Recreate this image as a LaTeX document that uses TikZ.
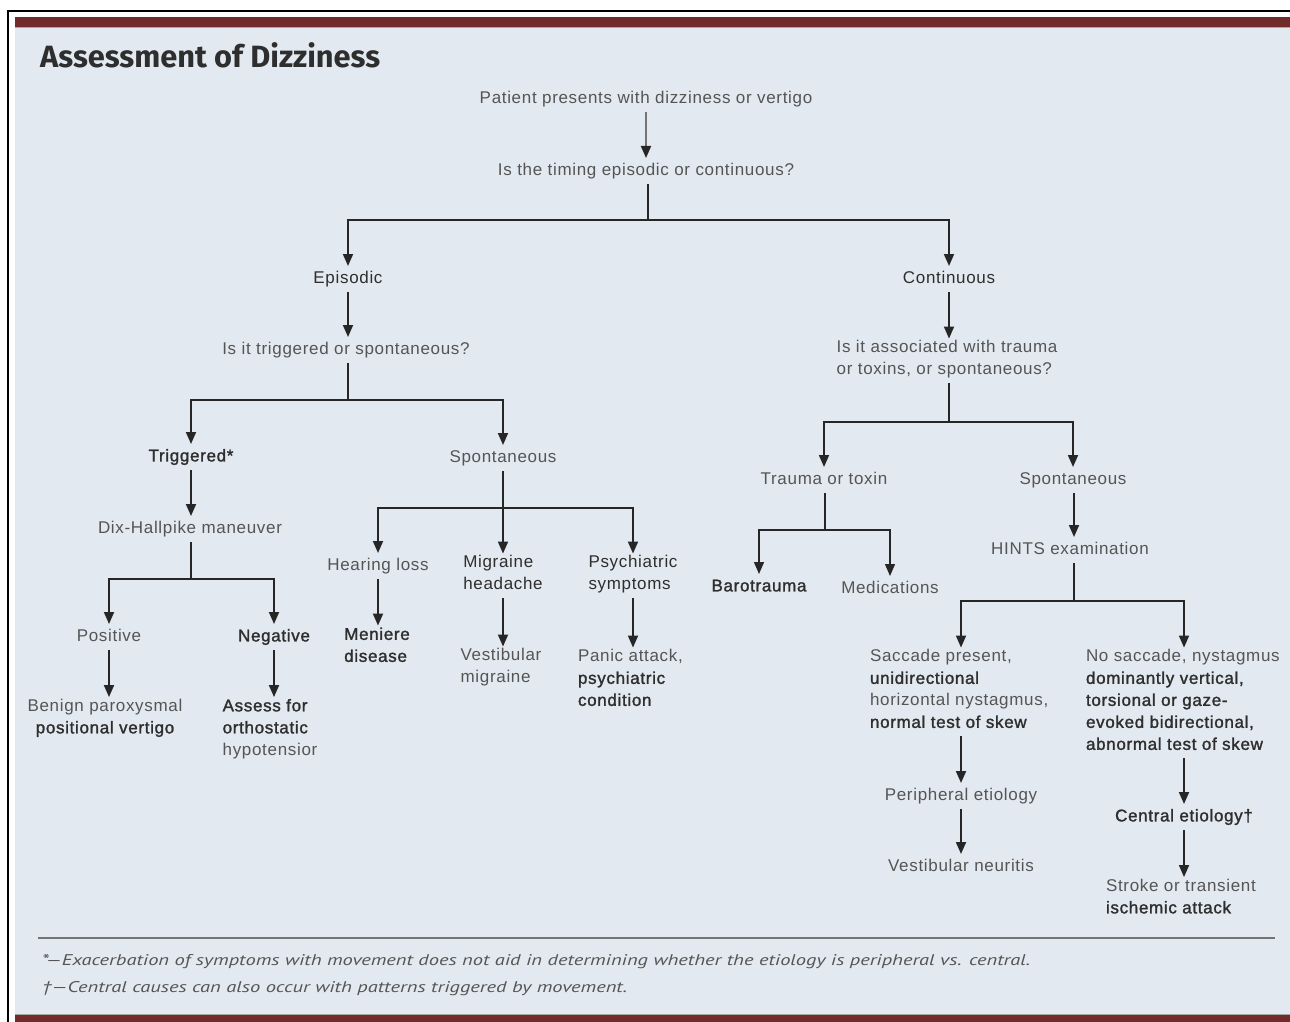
\documentclass[tikz,border=0pt]{standalone}
\usepackage{fontspec}
\usepackage{graphicx}
\usetikzlibrary{arrows.meta}
\setmainfont{Liberation Sans}[LetterSpace=4]
\newfontfamily\dkfont{Liberation Sans}[FakeBold=1.5,LetterSpace=4]
\newfontfamily\ttlfont{Fira Sans}
\newfontfamily\fnfont{PT Sans}
\definecolor{panel}{HTML}{E2E9F0}
\definecolor{barred}{HTML}{722B2B}
\definecolor{txtc}{HTML}{555555}
\definecolor{dtxt}{HTML}{2E2E2E}
\definecolor{lnc}{HTML}{262626}
\newcommand{\darkt}[1]{{\dkfont\color{dtxt}#1}}
\tikzset{
  box/.style={inner sep=2pt, outer sep=0pt, yshift=-2pt, text=txtc, font=\fontsize{17}{22}\selectfont,
    align=left, execute at begin node=\strut, execute at end node=\strut},
  dkt/.style={text=dtxt},
  bdt/.style={text=dtxt, font=\fontsize{17}{22}\selectfont\dkfont},
  conn/.style={draw=lnc, line width=1.8pt},
  arr/.style={conn, -{Triangle[width=10pt,length=12pt,color=lnc]}},
}
\begin{document}
\begin{tikzpicture}[x=1pt,y=-1pt]
\useasboundingbox (0,0) rectangle (1290,1022);
% frame and panel
\fill[white] (0,0) rectangle (1290,1022);
\fill[panel] (15,17) rectangle (1290,1015);
\fill[barred] (15,17) rectangle (1290,27);
\fill[barred] (15,1015) rectangle (1290,1022);
\draw[black!35, line width=0.8pt] (15,27.6) -- (1290,27.6);
\draw[black!35, line width=0.8pt] (15,1014.2) -- (1290,1014.2);
\draw[black, line width=1.6pt] (8,1022) -- (8,11) -- (1290,11);
% title
\node[anchor=west, inner sep=0pt, text=dtxt] (title) at (40,55)
  {\resizebox{340pt}{!}{\ttlfont\bfseries\fontsize{27}{30}\selectfont Assessment of Dizziness}};
% nodes
\node[box] (P) at (646,97) {Patient presents with dizziness or vertigo};
\node[box] (T) at (646,169) {Is the timing episodic or continuous?};
\node[box,dkt] (E) at (348,277) {Episodic};
\node[box,dkt] (C) at (949,277) {Continuous};
\node[box] (Q1) at (346,348) {Is it triggered or spontaneous?};
\node[box] (Q2) at (947,359) {Is it associated with trauma\\or toxins, or spontaneous?};
\node[box,bdt] (Tr) at (191,455) {Triggered*};
\node[box] (S1) at (503,456) {Spontaneous};
\node[box] (TT) at (824,478) {Trauma or toxin};
\node[box] (S2) at (1073,478) {Spontaneous};
\node[box] (DH) at (190,527) {Dix-Hallpike maneuver};
\node[box] (Pos) at (109,635) {Positive};
\node[box,bdt] (Neg) at (274,635) {Negative};
\node[box,align=center] (BP) at (105,717.5) {Benign paroxysmal\\\darkt{positional vertigo}};
\node[box] (OH) at (270,728.5) {\darkt{Assess for}\\\darkt{orthostatic}\\hypotensior};
\node[box] (HL) at (378,564) {Hearing loss};
\node[box,dkt] (MH) at (503,574) {Migraine\\headache};
\node[box,dkt] (PS) at (633,574) {Psychiatric\\symptoms};
\node[box,bdt] (Men) at (377,646) {Meniere\\disease};
\node[box] (VM) at (501,667) {Vestibular\\migraine};
\node[box,anchor=west] (PA) at (576,679) {Panic attack,\\\darkt{psychiatric}\\\darkt{condition}};
\node[box,bdt] (Ba) at (759,585) {Barotrauma};
\node[box] (Me) at (890,587) {Medications};
\node[box] (HI) at (1070,548) {HINTS examination};
\node[box,anchor=west] (SA) at (868,690) {Saccade present,\\\darkt{unidirectional}\\horizontal nystagmus,\\\darkt{normal test of skew}};
\node[box,anchor=west] (NS) at (1084,701) {No saccade, nystagmus\\\darkt{dominantly vertical,}\\\darkt{torsional or gaze-}\\\darkt{evoked bidirectional,}\\\darkt{abnormal test of skew}};
\node[box] (PE) at (961,794) {Peripheral etiology};
\node[box] (VN) at (961,865) {Vestibular neuritis};
\node[box,bdt] (CE) at (1184,815) {Central etiology†};
\node[box,anchor=west] (ST) at (1104,897.5) {Stroke or transient\\\darkt{ischemic attack}};
% junctions
\coordinate (j1) at (648,220);
\coordinate (j2) at (348,400);
\coordinate (j3) at (949,422);
\coordinate (j4) at (191,579);
\coordinate (j5) at (503,508);
\coordinate (j6) at (825,530);
\coordinate (j7) at (1074,601);
% connectors
\draw[arr, draw=black!55] (P.south) -- (P.south |- T.north);
\draw[conn] (T.south -| j1) -- (j1);
\draw[arr] (j1) -| (E.north);
\draw[arr] (j1) -| (C.north);
\draw[arr] (E.south) -- (E.south |- Q1.north);
\draw[arr] (C.south) -- (C.south |- Q2.north);
\draw[conn] (Q1.south -| j2) -- (j2);
\draw[arr] (j2) -| (Tr.north);
\draw[arr] (j2) -| (S1.north);
\draw[conn] (Q2.south -| j3) -- (j3);
\draw[arr] (j3) -| (TT.north);
\draw[arr] (j3) -| (S2.north);
\draw[arr] (Tr.south) -- (Tr.south |- DH.north);
\draw[conn] (DH.south -| j4) -- (j4);
\draw[arr] (j4) -| (Pos.north);
\draw[arr] (j4) -| (Neg.north);
\draw[arr] (Pos.south) -- (Pos.south |- BP.north);
\draw[arr] (Neg.south) -- (Neg.south |- OH.north);
\draw[conn] (S1.south -| j5) -- (j5);
\draw[arr] (j5) -| (HL.north);
\draw[arr] (j5) -| (MH.north);
\draw[arr] (j5) -| (PS.north);
\draw[arr] (HL.south) -- (HL.south |- Men.north);
\draw[arr] (MH.south) -- (MH.south |- VM.north);
\draw[arr] (PS.south) -- (PS.south |- PA.north);
\draw[conn, line width=1.3pt] (TT.south -| j6) -- (j6);
\draw[arr, line width=1.3pt] (j6) -| (Ba.north);
\draw[arr, line width=1.3pt] (j6) -| (Me.north);
\draw[arr] (S2.south -| j7) -- (j7 |- HI.north);
\draw[conn] (HI.south -| j7) -- (j7);
\draw[arr] (j7) -| (SA.north -| PE.north);
\draw[arr] (j7) -| (NS.north -| CE.north);
\draw[arr] (SA.south -| PE.north) -- (PE.north);
\draw[arr] (PE.south) -- (PE.south |- VN.north);
\draw[arr] (NS.south -| CE.north) -- (CE.north);
\draw[arr] (CE.south) -- (CE.south |- ST.north);
% footnotes
\draw[black!55, line width=2pt] (38,938) -- (1275,938);
\node[anchor=west, inner sep=0pt, text=txtc] (fn1) at (42,962)
  {\resizebox{988pt}{\height}{\fnfont\itshape\fontsize{15.5}{18}\selectfont *—Exacerbation of symptoms with movement does not aid in determining whether the etiology is peripheral vs. central.}};
\node[anchor=west, inner sep=0pt, text=txtc] (fn2) at (42,989)
  {\resizebox{585pt}{\height}{\fnfont\itshape\fontsize{15.5}{18}\selectfont †—Central causes can also occur with patterns triggered by movement.}};
\end{tikzpicture}
\end{document}
